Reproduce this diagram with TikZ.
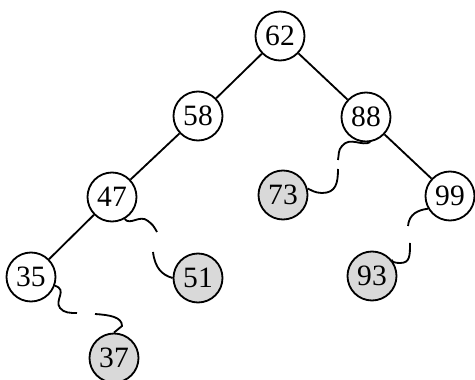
\documentclass[tikz,border=0pt]{standalone}
\usepackage{fontspec}
\setmainfont{Liberation Serif}
\usepackage{xcolor}
\usepackage{tikz}
\definecolor{shade}{HTML}{D9D9D9}

\begin{document}
\begin{tikzpicture}[x=0.025cm, y=-0.025cm, line width=1.3pt,
    key/.style={circle, draw, minimum size=49*0.025cm, inner sep=0pt, font=\fontsize{21}{23}\selectfont},
    ghost/.style={key, fill=shade}]
    \useasboundingbox (0,0) rectangle (475,380);

    % Tree nodes
    \node[key] (n62) at (280,36) {62};
    \node[key] (n58) at (198,116) {58};
    \node[key] (n88) at (366,117) {88};
    \node[key] (n47) at (112,197) {47};
    \node[ghost] (n73) at (283,195) {73};
    \node[key] (n99) at (450,196) {99};
    \node[key] (n35) at (31,277) {35};
    \node[ghost] (n51) at (198,278) {51};
    \node[ghost] (n93) at (372,276) {93};
    \node[ghost] (n37) at (114,358) {37};

    % Plain edges
    \draw (n62) -- (n58);
    \draw (n62) -- (n88);
    \draw (n58) -- (n47);
    \draw (n47) -- (n35);
    \draw (n88) -- (n99);

    % Broken wavy paths (gap in the middle)
    \coordinate (a1) at (338,160);
    \coordinate (a2) at (338,169);
    \draw (n88.-80) .. controls (362,147) and (350,136) .. (342,146) .. controls (338,150) and (339,155) .. (a1);
    \draw (a2) .. controls (338,183) and (336,193) .. (322,193) .. controls (315,193) and (311,190) .. (n73.15);

    \coordinate (b1) at (157,232);
    \coordinate (b2) at (153,252);
    \draw (n47.-60) .. controls (130,226) and (140,214) .. (148,221) .. controls (153,225) .. (b1);
    \draw (b2) .. controls (155,268) and (162,275) .. (n51.west);

    \coordinate (c1) at (77,313);
    \coordinate (c2) at (95,314);
    \draw (n35.-20) .. controls (68,290) and (54,300) .. (60,308) .. controls (64,313) and (70,313) .. (c1);
    \draw (c2) .. controls (110,315) and (122,317) .. (122,326) -- (n37.north);

    \coordinate (d1) at (408,226);
    \coordinate (d2) at (410,243);
    \draw (n99.-150) .. controls (418,210) and (409,214) .. (d1);
    \draw (d2) .. controls (410,256) and (410,263) .. (400,263) .. controls (395,263) and (392,262) .. (n93.40);
\end{tikzpicture}
\end{document}
